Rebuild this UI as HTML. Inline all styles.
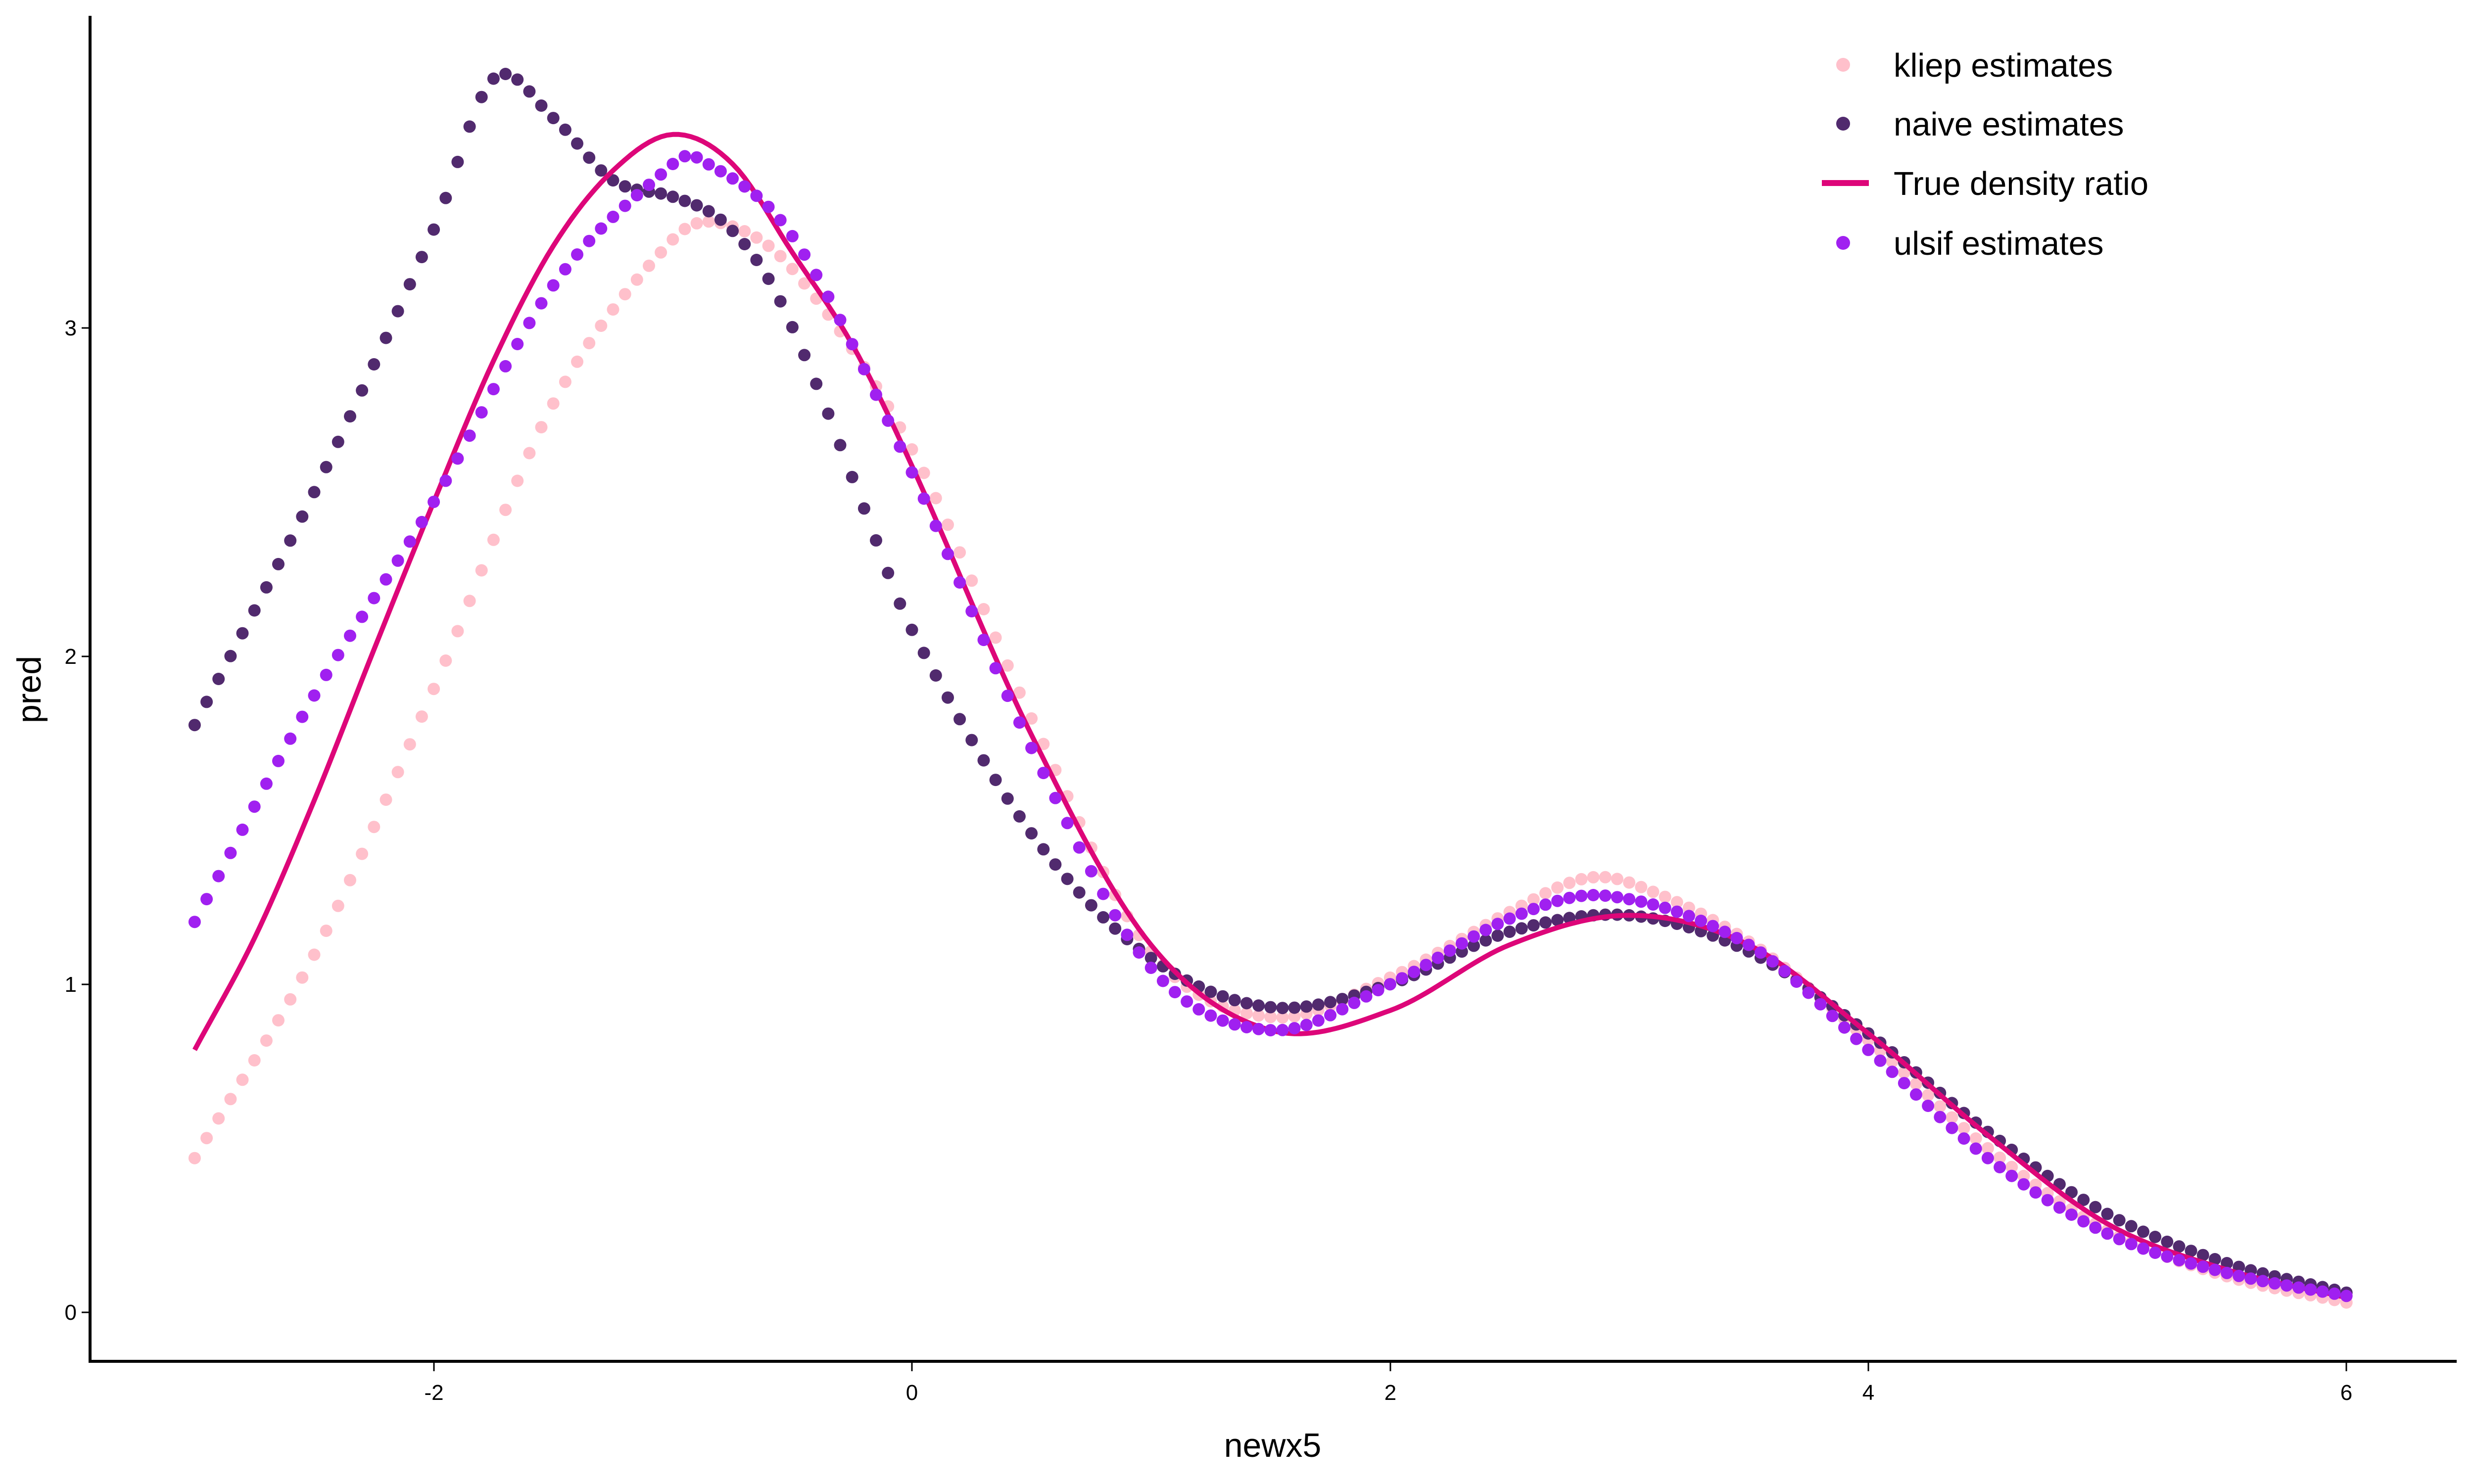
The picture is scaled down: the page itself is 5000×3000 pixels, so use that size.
<!DOCTYPE html>
<html><head><meta charset="utf-8"><style>
html,body{margin:0;padding:0;background:#fff;}
svg{display:block;font-family:"Liberation Sans",sans-serif;}
</style></head><body>
<svg id="s" width="5000" height="3000" viewBox="0 0 5000 3000" xmlns="http://www.w3.org/2000/svg">
<rect width="5000" height="3000" fill="#fff"/>
<g id="plot"></g>
<line x1="182" y1="32" x2="182" y2="2755" stroke="#000" stroke-width="6"/>
<line x1="179" y1="2752" x2="4965" y2="2752" stroke="#000" stroke-width="6"/>
<g stroke="#000" stroke-width="3">
<line x1="877" y1="2755" x2="877" y2="2772"/><line x1="1843" y1="2755" x2="1843" y2="2772"/>
<line x1="2810" y1="2755" x2="2810" y2="2772"/><line x1="3776" y1="2755" x2="3776" y2="2772"/>
<line x1="4742" y1="2755" x2="4742" y2="2772"/>
<line x1="165" y1="2653" x2="182" y2="2653"/><line x1="165" y1="1990" x2="182" y2="1990"/>
<line x1="165" y1="1327" x2="182" y2="1327"/><line x1="165" y1="663" x2="182" y2="663"/>
</g>
<g font-size="44" fill="#000" text-anchor="middle">
<text x="877" y="2830">-2</text><text x="1843" y="2830">0</text><text x="2810" y="2830">2</text>
<text x="3776" y="2830">4</text><text x="4742" y="2830">6</text>
</g>
<g font-size="44" fill="#000" text-anchor="end">
<text x="155" y="2668">0</text><text x="155" y="2005">1</text><text x="155" y="1342">2</text><text x="155" y="678">3</text>
</g>
<text x="2572" y="2945" font-size="68" text-anchor="middle">newx5</text>
<text transform="translate(82,1394) rotate(-90)" font-size="68" text-anchor="middle">pred</text>
<g font-size="67">
<circle cx="3725" cy="131" r="14" fill="#FFC0CB"/><text x="3827" y="155">kliep estimates</text>
<circle cx="3725" cy="250" r="14" fill="#512A6E"/><text x="3827" y="274">naive estimates</text>
<line x1="3682" y1="370" x2="3777" y2="370" stroke="#DD0679" stroke-width="12"/><text x="3827" y="394">True density ratio</text>
<circle cx="3725" cy="491" r="14" fill="#A020F0"/><text x="3827" y="515">ulsif estimates</text>
</g>
</svg>
<script>
(function(){
var X=function(x){return 1843+483.2*x;},Y=function(y){return 2653-663.3*y;};
function interp(pts,x){
 var n=pts.length,i=0;
 while(i<n-2&&x>pts[i+1][0])i++;
 var p0=pts[Math.max(i-1,0)],p1=pts[i],p2=pts[i+1],p3=pts[Math.min(i+2,n-1)];
 var t=(x-p1[0])/(p2[0]-p1[0]);
 var m1=(p2[1]-p0[1])/(p2[0]-p0[0])*(p2[0]-p1[0]);
 var m2=(p3[1]-p1[1])/(p3[0]-p1[0])*(p2[0]-p1[0]);
 var t2=t*t,t3=t2*t;
 return (2*t3-3*t2+1)*p1[1]+(t3-2*t2+t)*m1+(-2*t3+3*t2)*p2[1]+(t3-t2)*m2;
}
var tru=[[-3,0.8],[-2.75,1.14],[-2.5,1.56],[-2.25,2.02],[-2,2.47],[-1.75,2.9],[-1.5,3.25],[-1.25,3.48],[-1,3.59],[-0.75,3.5],[-0.5,3.23],[-0.25,2.95],[0,2.58],[0.5,1.76],[1,1.12],[1.5,0.86],[2,0.92],[2.5,1.12],[3,1.21],[3.5,1.12],[4,0.85],[4.5,0.54],[5,0.27],[5.5,0.13],[6,0.045]];
var naive=[[-3,1.79],[-2.5,2.5],[-2,3.3],[-1.75,3.76],[-1.5,3.64],[-1.25,3.45],[-1,3.40],[-0.8,3.33],[-0.6,3.15],[-0.4,2.83],[-0.2,2.45],[0,2.08],[0.5,1.46],[1,1.08],[1.5,0.93],[2,1.0],[2.5,1.16],[3,1.21],[3.5,1.1],[4,0.85],[4.5,0.55],[5,0.3],[5.5,0.15],[6,0.06]];
var kliep=[[-3,0.47],[-2.5,1.09],[-2,1.9],[-1.5,2.77],[-1,3.27],[-0.8,3.32],[-0.5,3.18],[0,2.63],[0.5,1.81],[1,1.1],[1.5,0.9],[2,1.02],[2.5,1.22],[2.8,1.32],[3,1.31],[3.5,1.13],[4,0.83],[4.5,0.5],[5,0.25],[5.5,0.11],[6,0.03]];
var ulsif=[[-3,1.19],[-2.5,1.88],[-2,2.47],[-1.5,3.13],[-1,3.5],[-0.9,3.52],[-0.5,3.28],[0,2.56],[0.5,1.72],[1,1.05],[1.5,0.86],[2,1.0],[2.5,1.2],[2.9,1.27],[3.5,1.12],[4,0.8],[4.5,0.47],[5,0.24],[5.5,0.12],[6,0.05]];
var g=document.getElementById('plot'),h='';
function dots(pts,col){for(var k=0;k<=180;k++){var x=-3+k*0.05;h+='<circle cx="'+X(x).toFixed(1)+'" cy="'+Y(interp(pts,x)).toFixed(1)+'" r="12.5" fill="'+col+'"/>';}}
dots(kliep,'#FFC0CB');dots(naive,'#512A6E');
var d='';for(var k=0;k<=360;k++){var x=-3+k*0.025;d+=(k?'L':'M')+X(x).toFixed(1)+' '+Y(interp(tru,x)).toFixed(1);}
h+='<path d="'+d+'" fill="none" stroke="#DD0679" stroke-width="10" stroke-linejoin="round"/>';
dots(ulsif,'#A020F0');
g.innerHTML=h;
})();
</script>
</body></html>
